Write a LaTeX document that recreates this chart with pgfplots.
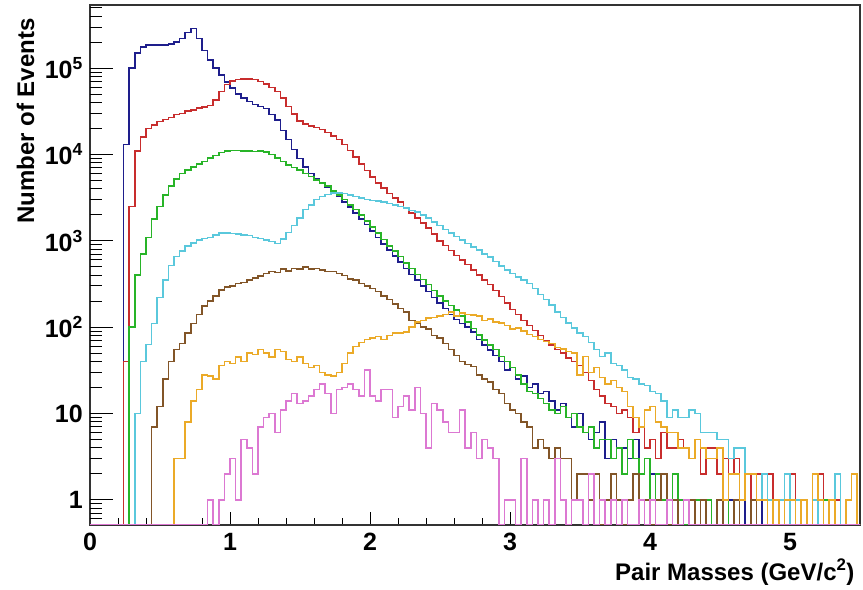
\documentclass[border=0pt]{standalone}
\usepackage{pgfplots}
\pgfplotsset{compat=1.18}
\usepackage{fontspec}
\setmainfont{Liberation Sans}
\definecolor{cBlue}{RGB}{30,30,140}
\definecolor{cRed}{RGB}{200,45,45}
\definecolor{cGreen}{RGB}{40,180,40}
\definecolor{cCyan}{RGB}{90,200,220}
\definecolor{cBrown}{RGB}{130,85,40}
\definecolor{cOrange}{RGB}{235,170,40}
\definecolor{cPink}{RGB}{220,120,210}
\newcommand\tfont{\fontsize{25}{30}\selectfont\bfseries}
\newcommand\lfont{\fontsize{24}{28}\selectfont\bfseries}
\begin{document}
\begin{tikzpicture}
\begin{axis}[
  scale only axis, width=770pt, height=520pt,
  xmin=0, xmax=5.5, ymode=log, ymin=0.51, ymax=5.4e5,
  axis line style={line width=1.3pt, black!80},
  xtick={0,1,2,3,4,5}, xticklabels={0,1,2,3,4,5},
  minor xtick={0.2,0.4,0.6,0.8,1.2,1.4,1.6,1.8,2.2,2.4,2.6,2.8,3.2,3.4,3.6,3.8,4.2,4.4,4.6,4.8,5.2,5.4},
  ytick=\empty,
  xtick pos=left, tick align=inside,
  major tick length=13pt, minor tick length=7pt,
  tick style={line width=1pt, black},
  xticklabel style={font=\tfont, inner sep=0pt, anchor=north, yshift=-8pt},
  xlabel={Pair Masses (GeV/c\textsuperscript{2})},
  every axis x label/.style={at={(axis description cs:0.9974,-0.1058)}, anchor=base east, font=\lfont},
  ylabel={Number of Events},
  every axis y label/.style={at={(axis description cs:-0.0727,0.9808)}, rotate=90, anchor=base east, font=\lfont},
  every axis plot/.append style={line width=1.5pt, mark=none, const plot mark left},
]
% blue
\addplot[cBlue] table[row sep=\\]{x y\\
0.20 0.52\\0.24 1.3e4\\0.28 1.0e5\\0.32 1.5e5\\0.36 1.75e5\\0.40 1.85e5\\0.44 1.85e5\\0.48 1.85e5\\0.52 1.85e5\\0.56 1.9e5\\
0.60 2.0e5\\0.64 2.2e5\\0.68 2.6e5\\0.72 2.9e5\\0.76 2.2e5\\0.80 1.6e5\\0.84 1.25e5\\0.88 1.0e5\\0.92 8.3e4\\0.96 6.9e4\\
1.00 5.9e4\\1.04 5.0e4\\1.08 4.5e4\\1.12 4.1e4\\1.16 3.8e4\\1.20 3.6e4\\1.24 3.4e4\\1.28 2.9e4\\1.32 2.5e4\\1.36 1.9e4\\
1.40 1.5e4\\1.44 1.15e4\\1.48 9.0e3\\1.52 7.2e3\\1.56 6.0e3\\1.60 5.2e3\\1.64 4.7e3\\1.68 4.2e3\\1.72 3.75e3\\1.76 3.3e3\\
1.80 2.8e3\\1.84 2.45e3\\1.88 2.1e3\\1.92 1.8e3\\1.96 1.55e3\\2.00 1.3e3\\2.04 1.1e3\\2.08 920\\2.12 780\\2.16 670\\
2.20 570\\2.24 480\\2.28 410\\2.32 350\\2.36 300\\2.40 260\\2.44 220\\2.48 190\\2.52 165\\2.56 140\\
2.60 122\\2.64 110\\2.68 100\\2.72 88\\2.76 72\\2.80 62\\2.84 54\\2.88 47\\2.92 40\\2.96 32\\
3.00 34\\3.04 25\\3.08 27\\3.12 20\\3.16 22\\3.20 17\\3.24 18\\3.28 14\\3.32 11\\3.36 13\\
3.40 9\\3.44 7\\3.48 10\\3.52 6\\3.56 5\\3.60 6\\3.64 8\\3.68 3\\3.72 5\\3.76 4\\3.80 4\\3.84 3\\3.88 5\\3.92 2\\3.96 3\\
4.00 2\\4.04 1\\4.08 2\\4.12 1\\4.16 2\\4.20 0.52\\4.24 1\\4.32 0.52\\4.36 1\\4.44 0.52\\4.48 1\\4.52 0.52\\4.56 1\\4.60 0.52\\
4.64 1\\4.68 0.52\\4.76 1\\4.80 0.52\\4.88 1\\4.92 0.52\\5.52 0.52\\};
% red
\addplot[cRed] table[row sep=\\]{x y\\
0.20 0.52\\0.24 40\\0.28 2.5e3\\0.32 1.1e4\\0.36 1.6e4\\0.40 2.0e4\\0.44 2.2e4\\0.48 2.4e4\\0.52 2.55e4\\0.56 2.7e4\\
0.60 2.9e4\\0.64 3.0e4\\0.68 3.2e4\\0.72 3.3e4\\0.76 3.45e4\\0.80 3.55e4\\0.84 3.7e4\\0.88 4.3e4\\0.92 5.4e4\\0.96 6.5e4\\
1.00 7.1e4\\1.04 7.4e4\\1.08 7.5e4\\1.12 7.5e4\\1.16 7.4e4\\1.20 7.0e4\\1.24 6.6e4\\1.28 6.0e4\\1.32 5.4e4\\1.36 4.5e4\\
1.40 3.6e4\\1.44 2.95e4\\1.48 2.45e4\\1.52 2.25e4\\1.56 2.15e4\\1.60 2.05e4\\1.64 1.95e4\\1.68 1.8e4\\1.72 1.65e4\\1.76 1.5e4\\
1.80 1.3e4\\1.84 1.12e4\\1.88 9.3e3\\1.92 7.8e3\\1.96 6.5e3\\2.00 5.5e3\\2.04 4.7e3\\2.08 4.1e3\\2.12 3.55e3\\2.16 3.15e3\\
2.20 2.8e3\\2.24 2.4e3\\2.28 2.1e3\\2.32 1.85e3\\2.36 1.6e3\\2.40 1.4e3\\2.44 1.2e3\\2.48 1.0e3\\2.52 880\\2.56 770\\
2.60 680\\2.64 600\\2.68 530\\2.72 460\\2.76 400\\2.80 350\\2.84 310\\2.88 265\\2.92 225\\2.96 190\\
3.00 160\\3.04 140\\3.08 120\\3.12 105\\3.16 92\\3.20 80\\3.24 70\\3.28 62\\3.32 55\\3.36 50\\
3.40 44\\3.44 40\\3.48 36\\3.52 30\\3.56 24\\3.60 19\\3.64 16\\3.68 13\\3.72 12\\3.76 10\\
3.80 11\\3.84 9\\3.88 6\\3.92 7\\3.96 4\\4.00 5\\4.04 3\\4.08 6\\4.12 4\\4.16 4\\
4.20 5\\4.24 4\\4.28 3\\4.32 5\\4.36 2\\4.40 4\\4.44 4\\4.48 2\\4.52 3\\4.56 2\\
4.60 3\\4.64 1\\4.68 2\\4.72 1\\4.76 2\\4.80 1\\4.84 2\\4.88 1\\4.92 0.52\\4.96 1\\
5.00 2\\5.04 0.52\\5.08 1\\5.12 0.52\\5.20 2\\5.24 1\\5.28 0.52\\5.32 1\\5.36 0.52\\5.52 0.52\\};
% green
\addplot[cGreen] table[row sep=\\]{x y\\
0.24 0.52\\0.28 100\\0.32 400\\0.36 700\\0.40 1.1e3\\0.44 1.8e3\\0.48 2.5e3\\0.52 3.4e3\\0.56 4.3e3\\
0.60 5.2e3\\0.64 6.0e3\\0.68 6.6e3\\0.72 7.2e3\\0.76 7.8e3\\0.80 8.3e3\\0.84 9.1e3\\0.88 9.8e3\\0.92 1.05e4\\0.96 1.1e4\\
1.00 1.12e4\\1.04 1.12e4\\1.08 1.1e4\\1.12 1.1e4\\1.16 1.08e4\\1.20 1.1e4\\1.24 1.07e4\\1.28 1.0e4\\1.32 9.1e3\\1.36 8.3e3\\
1.40 7.6e3\\1.44 7.1e3\\1.48 6.6e3\\1.52 6.0e3\\1.56 5.6e3\\1.60 5.1e3\\1.64 4.7e3\\1.68 4.3e3\\1.72 3.8e3\\1.76 3.4e3\\
1.80 3.0e3\\1.84 2.6e3\\1.88 2.3e3\\1.92 2.0e3\\1.96 1.7e3\\2.00 1.45e3\\2.04 1.23e3\\2.08 1.03e3\\2.12 870\\2.16 760\\
2.20 660\\2.24 550\\2.28 480\\2.32 410\\2.36 355\\2.40 310\\2.44 265\\2.48 230\\2.52 200\\2.56 178\\
2.60 158\\2.64 135\\2.68 115\\2.72 97\\2.76 81\\2.80 71\\2.84 62\\2.88 55\\2.92 46\\2.96 40\\
3.00 34\\3.04 28\\3.08 22\\3.12 18\\3.16 17\\3.20 15\\3.24 13\\3.28 11\\3.32 10\\3.36 12\\
3.40 9\\3.44 10\\3.48 7\\3.52 6\\3.56 7\\3.60 4\\3.64 5\\3.68 5\\3.72 3\\3.76 4\\
3.80 2\\3.84 5\\3.88 3\\3.92 2\\3.96 3\\4.00 1\\4.04 2\\4.08 1\\4.12 0.52\\4.16 2\\
4.20 1\\4.24 0.52\\4.28 1\\4.36 0.52\\4.40 1\\4.44 0.52\\4.48 1\\4.56 0.52\\4.60 1\\4.64 0.52\\
4.72 1\\4.76 0.52\\4.84 1\\4.88 0.52\\5.24 1\\5.28 0.52\\5.52 0.52\\};
% cyan
\addplot[cCyan] table[row sep=\\]{x y\\
0.28 0.52\\0.32 10\\0.36 40\\0.40 63\\0.44 110\\0.48 220\\0.52 350\\0.56 520\\
0.60 660\\0.64 760\\0.68 870\\0.72 950\\0.76 1.02e3\\0.80 1.07e3\\0.84 1.1e3\\0.88 1.17e3\\0.92 1.23e3\\0.96 1.23e3\\
1.00 1.22e3\\1.04 1.2e3\\1.08 1.17e3\\1.12 1.15e3\\1.16 1.1e3\\1.20 1.07e3\\1.24 1.02e3\\1.28 980\\1.32 930\\1.36 1.05e3\\
1.40 1.25e3\\1.44 1.5e3\\1.48 1.85e3\\1.52 2.3e3\\1.56 2.6e3\\1.60 3.0e3\\1.64 3.25e3\\1.68 3.45e3\\1.72 3.6e3\\1.76 3.6e3\\
1.80 3.55e3\\1.84 3.4e3\\1.88 3.25e3\\1.92 3.15e3\\1.96 3.0e3\\2.00 2.95e3\\2.04 2.9e3\\2.08 2.8e3\\2.12 2.7e3\\2.16 2.6e3\\
2.20 2.5e3\\2.24 2.4e3\\2.28 2.25e3\\2.32 2.15e3\\2.36 2.0e3\\2.40 1.85e3\\2.44 1.65e3\\2.48 1.5e3\\2.52 1.35e3\\2.56 1.23e3\\
2.60 1.12e3\\2.64 1.02e3\\2.68 930\\2.72 850\\2.76 780\\2.80 700\\2.84 650\\2.88 575\\2.92 510\\2.96 460\\
3.00 420\\3.04 380\\3.08 350\\3.12 320\\3.16 280\\3.20 240\\3.24 210\\3.28 180\\3.32 150\\3.36 130\\
3.40 112\\3.44 98\\3.48 85\\3.52 78\\3.56 66\\3.60 55\\3.64 46\\3.68 50\\3.72 38\\3.76 36\\
3.80 32\\3.84 26\\3.88 25\\3.92 22\\3.96 21\\4.00 18\\4.04 17\\4.08 14\\4.12 9\\4.16 11\\
4.20 9\\4.24 9\\4.28 11\\4.32 10\\4.36 6\\4.48 5\\4.56 3\\4.60 4\\4.68 2\\4.76 1\\
4.80 2\\4.84 1\\4.88 0.52\\4.92 1\\4.96 2\\5.00 0.52\\5.04 1\\5.08 0.52\\5.16 1\\5.20 0.52\\
5.32 2\\5.36 0.52\\5.52 0.52\\};
% brown
\addplot[cBrown] table[row sep=\\]{x y\\
0.40 0.52\\0.44 7\\0.48 12\\0.52 25\\0.56 40\\
0.60 55\\0.64 65\\0.68 85\\0.72 110\\0.76 140\\0.80 175\\0.84 200\\0.88 230\\0.92 270\\0.96 290\\
1.00 300\\1.04 320\\1.08 330\\1.12 350\\1.16 370\\1.20 390\\1.24 420\\1.28 440\\1.32 430\\1.36 470\\
1.40 450\\1.44 480\\1.48 470\\1.52 500\\1.56 470\\1.60 480\\1.64 460\\1.68 440\\1.72 440\\1.76 420\\
1.80 395\\1.84 360\\1.88 350\\1.92 320\\1.96 300\\2.00 280\\2.04 260\\2.08 230\\2.12 210\\2.16 185\\
2.20 165\\2.24 150\\2.28 120\\2.32 110\\2.36 100\\2.40 95\\2.44 80\\2.48 75\\2.52 65\\2.56 55\\
2.60 47\\2.64 40\\2.68 37\\2.72 35\\2.76 28\\2.80 25\\2.84 23\\2.88 19\\2.92 17\\2.96 13\\
3.00 11\\3.04 10\\3.08 8\\3.12 7\\3.16 4\\3.20 5\\3.24 4\\3.28 3\\3.32 4\\3.36 3\\
3.44 1\\3.48 2\\3.56 1\\3.60 2\\3.64 0.52\\3.68 1\\3.72 2\\3.76 1\\3.80 0.52\\3.84 1\\
3.88 2\\3.92 1\\4.00 0.52\\4.04 1\\4.08 2\\4.12 0.52\\4.16 1\\4.20 0.52\\4.24 1\\4.32 0.52\\
4.36 1\\4.40 0.52\\4.48 1\\4.52 0.52\\4.60 1\\4.64 0.52\\4.72 1\\4.76 0.52\\4.88 1\\4.92 0.52\\5.52 0.52\\};
% orange
\addplot[cOrange] table[row sep=\\]{x y\\
0.56 0.52\\0.60 3\\0.68 8\\0.72 14\\0.76 19\\0.80 28\\0.84 27\\0.88 25\\0.92 36\\0.96 40\\
1.00 38\\1.04 45\\1.08 40\\1.12 50\\1.16 48\\1.20 55\\1.24 50\\1.28 45\\1.32 55\\1.36 52\\
1.40 42\\1.44 40\\1.48 45\\1.52 38\\1.56 34\\1.60 36\\1.64 30\\1.68 28\\1.72 27\\1.76 30\\
1.80 38\\1.84 50\\1.88 60\\1.92 66\\1.96 72\\2.00 75\\2.04 78\\2.08 72\\2.12 80\\2.16 85\\
2.20 85\\2.24 88\\2.28 100\\2.32 115\\2.36 120\\2.40 128\\2.44 130\\2.48 135\\2.52 140\\2.56 150\\
2.60 135\\2.64 145\\2.68 140\\2.72 138\\2.76 135\\2.80 120\\2.84 125\\2.88 115\\2.92 112\\2.96 105\\
3.00 95\\3.04 98\\3.08 90\\3.12 82\\3.16 78\\3.20 72\\3.24 68\\3.28 65\\3.32 58\\3.36 56\\
3.40 52\\3.44 50\\3.48 28\\3.52 46\\3.56 30\\3.60 34\\3.64 26\\3.68 22\\3.72 24\\3.76 20\\
3.80 18\\3.84 12\\3.88 9\\3.92 7\\3.96 11\\4.00 12\\4.04 8\\4.08 7\\4.12 6\\4.16 6\\
4.20 4\\4.24 4\\4.28 3\\4.32 5\\4.36 4\\4.40 3\\4.44 3\\4.48 4\\4.52 1\\4.56 2\\
4.64 1\\4.68 2\\4.76 1\\4.84 0.52\\4.88 1\\4.92 0.52\\4.96 1\\5.04 0.52\\5.08 1\\5.12 0.52\\
5.16 2\\5.20 1\\5.24 0.52\\5.28 1\\5.32 0.52\\5.40 1\\5.44 2\\5.48 0.52\\5.52 0.52\\};
% pink
\addplot[cPink] table[row sep=\\]{x y\\
0.00 0.52\\0.84 1\\0.88 0.52\\0.92 1\\0.96 2\\1.00 3\\1.04 1\\1.08 5\\1.12 4\\1.16 2\\
1.20 7\\1.24 9\\1.28 10\\1.32 6\\1.36 11\\1.40 14\\1.44 17\\1.48 13\\1.52 14\\1.56 16\\
1.60 19\\1.64 22\\1.68 17\\1.72 10\\1.76 19\\1.80 20\\1.84 22\\1.88 19\\1.92 16\\1.96 32\\
2.00 16\\2.04 14\\2.08 19\\2.12 19\\2.16 9\\2.20 12\\2.24 16\\2.28 11\\2.32 20\\2.36 10\\
2.40 4\\2.44 13\\2.48 11\\2.52 8\\2.56 6\\2.60 6\\2.64 11\\2.68 4\\2.72 6\\2.76 3\\
2.80 5\\2.84 4\\2.88 3\\2.92 0.52\\2.96 1\\3.04 0.52\\3.08 3\\3.12 0.52\\3.16 1\\3.20 0.52\\
3.24 1\\3.28 0.52\\3.32 3\\3.36 1\\3.40 0.52\\3.44 1\\3.52 0.52\\3.56 2\\3.60 0.52\\3.64 1\\
3.68 0.52\\3.72 1\\3.76 0.52\\3.80 1\\3.84 0.52\\3.92 1\\3.96 0.52\\4.00 1\\4.04 0.52\\4.12 1\\
4.16 0.52\\4.24 1\\4.28 0.52\\5.52 0.52\\};
\end{axis}
\begin{axis}[
  scale only axis, width=770pt, height=520pt,
  xmin=0, xmax=5.5, ymode=log, ymin=0.51, ymax=5.4e5,
  axis line style={draw=none},
  xtick=\empty,
  ytick={1,10,100,1000,10000,100000},
  yticklabels={1,10,10\textsuperscript{2},10\textsuperscript{3},10\textsuperscript{4},10\textsuperscript{5}},
  minor ytick={0.6,0.7,0.8,0.9,2,3,4,5,6,7,8,9,20,30,40,50,60,70,80,90,200,300,400,500,600,700,800,900,2000,3000,4000,5000,6000,7000,8000,9000,20000,30000,40000,50000,60000,70000,80000,90000,200000,300000,400000,500000},
  ytick pos=left, tick align=inside,
  major tick length=23pt, minor tick length=12pt,
  tick style={line width=1pt, black},
  yticklabel style={font=\tfont, inner sep=0pt, anchor=east, xshift=-7pt},
]
\coordinate (SW) at (rel axis cs:0,0);
\coordinate (NE) at (rel axis cs:1,1);
\end{axis}
\pgfresetboundingbox
\path[use as bounding box] ([xshift=-90pt,yshift=-64pt]SW) rectangle ([xshift=3pt,yshift=5pt]NE);
\end{tikzpicture}
\end{document}
